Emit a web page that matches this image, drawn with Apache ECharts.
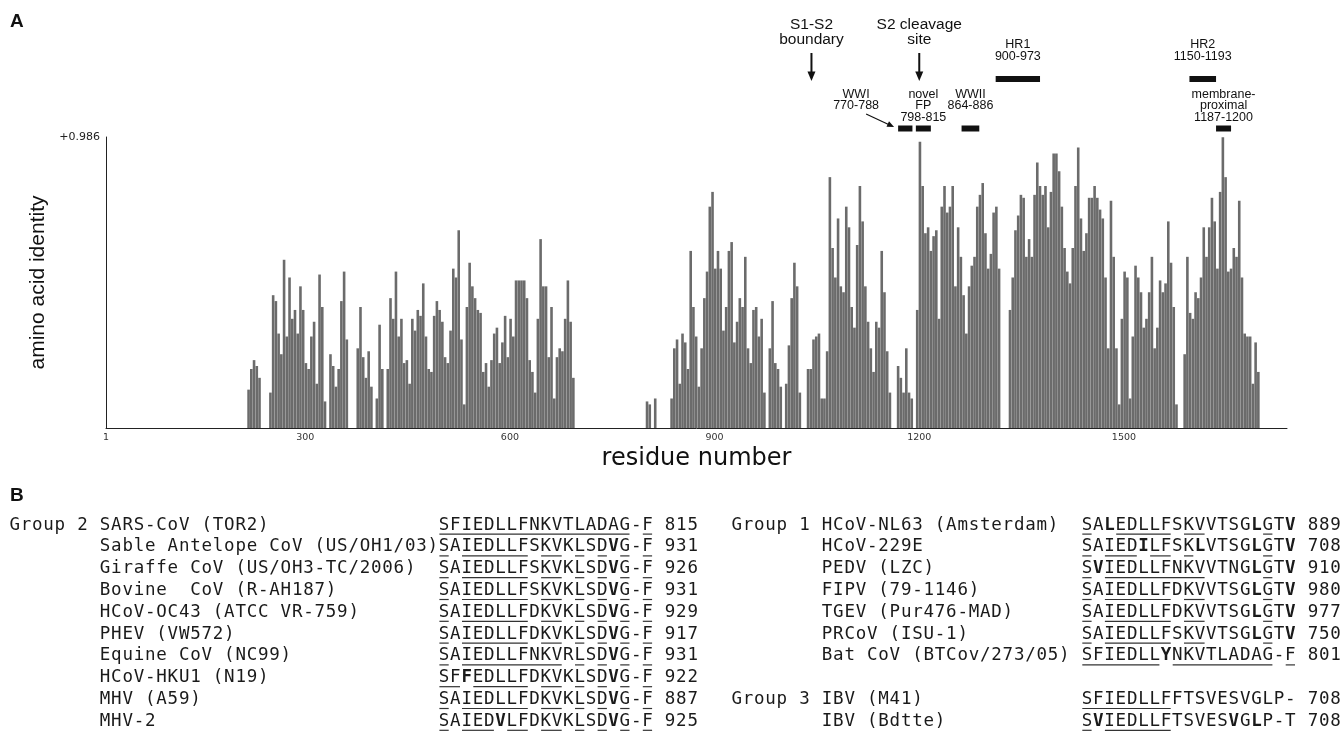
<!DOCTYPE html>
<html>
<head>
<meta charset="utf-8">
<title>Spike protein amino acid identity</title>
<script src="https://cdn.jsdelivr.net/npm/echarts@6/dist/echarts.min.js"></script>
<style>
  html, body { margin: 0; padding: 0; background: #fff; }
  #chart { width: 1343px; height: 738px; }
</style>
</head>
<body>
<div id="chart"></div>
<script>
// ---- panel A data: identity of each 4-residue window along the alignment ----
const firstResidue = 217
const residueStep = 4
const identity = [
  0.13, 0.20, 0.23, 0.21, 0.17, 0, 0, 0, 0.12, 0.45,
  0.43, 0.32, 0.25, 0.57, 0.31, 0.51, 0.37, 0.40, 0.32, 0.48,
  0.40, 0.22, 0.20, 0.31, 0.36, 0.15, 0.52, 0.41, 0.09, 0,
  0.25, 0.21, 0.14, 0.20, 0.43, 0.53, 0.30, 0, 0, 0,
  0.27, 0.41, 0.24, 0.17, 0.26, 0.14, 0, 0.10, 0.35, 0.20,
  0, 0.20, 0.44, 0.37, 0.53, 0.31, 0.37, 0.22, 0.23, 0.15,
  0.37, 0.33, 0.40, 0.38, 0.49, 0.31, 0.20, 0.19, 0.38, 0.43,
  0.40, 0.36, 0.24, 0.22, 0.33, 0.54, 0.51, 0.67, 0.30, 0.08,
  0.41, 0.56, 0.48, 0.44, 0.40, 0.39, 0.19, 0.22, 0.14, 0.23,
  0.32, 0.34, 0.22, 0.29, 0.38, 0.24, 0.37, 0.31, 0.50, 0.50,
  0.50, 0.50, 0.44, 0.23, 0.19, 0.12, 0.37, 0.64, 0.48, 0.48,
  0.24, 0.41, 0.10, 0.24, 0.27, 0.26, 0.37, 0.50, 0.36, 0.17,
  0, 0, 0, 0, 0, 0, 0, 0, 0, 0,
  0, 0, 0, 0, 0, 0, 0, 0, 0, 0,
  0, 0, 0, 0, 0, 0, 0.09, 0.08, 0, 0.10,
  0, 0, 0, 0, 0, 0.10, 0.27, 0.30, 0.15, 0.32,
  0.29, 0.20, 0.60, 0.41, 0.31, 0.14, 0.27, 0.44, 0.53, 0.75,
  0.80, 0.54, 0.60, 0.54, 0.33, 0.41, 0.60, 0.63, 0.29, 0.36,
  0.44, 0.41, 0.58, 0.27, 0.22, 0.40, 0.41, 0.31, 0.37, 0.12,
  0, 0.27, 0.43, 0.22, 0.20, 0.14, 0, 0.15, 0.28, 0.44,
  0.56, 0.48, 0.12, 0, 0, 0.20, 0.20, 0.30, 0.31, 0.32,
  0.10, 0.10, 0.26, 0.85, 0.61, 0.51, 0.71, 0.48, 0.46, 0.75,
  0.68, 0.41, 0.34, 0.62, 0.82, 0.70, 0.48, 0.36, 0.27, 0.19,
  0.36, 0.34, 0.60, 0.46, 0.26, 0.12, 0, 0, 0.21, 0.17,
  0.12, 0.27, 0.12, 0.10, 0, 0.40, 0.97, 0.82, 0.66, 0.68,
  0.60, 0.65, 0.67, 0.37, 0.75, 0.82, 0.73, 0.75, 0.82, 0.48,
  0.68, 0.58, 0.45, 0.32, 0.48, 0.55, 0.58, 0.75, 0.79, 0.83,
  0.66, 0.54, 0.59, 0.73, 0.75, 0.54, 0, 0, 0, 0.40,
  0.51, 0.67, 0.72, 0.79, 0.78, 0.58, 0.64, 0.58, 0.79, 0.90,
  0.82, 0.79, 0.82, 0.68, 0.80, 0.93, 0.93, 0.87, 0.75, 0.61,
  0.53, 0.49, 0.61, 0.82, 0.95, 0.71, 0.60, 0.66, 0.78, 0.78,
  0.82, 0.78, 0.74, 0.71, 0.51, 0.27, 0.77, 0.58, 0.27, 0.08,
  0.37, 0.53, 0.51, 0.10, 0.31, 0.55, 0.51, 0.46, 0.34, 0.37,
  0.46, 0.58, 0.27, 0.34, 0.50, 0.46, 0.49, 0.70, 0.56, 0.41,
  0.08, 0, 0, 0.25, 0.58, 0.39, 0.37, 0.46, 0.44, 0.51,
  0.68, 0.58, 0.68, 0.78, 0.70, 0.54, 0.80, 0.985, 0.85, 0.53,
  0.54, 0.61, 0.58, 0.77, 0.51, 0.32, 0.31, 0.31, 0.15, 0.29,
  0.19
]
const xTickValues = [8, 300, 600, 900, 1200, 1500]
const xTickLabels = ['1', '300', '600', '900', '1200', '1500']
const yTopLabel = '+0.986'

// domains (alignment positions of the bar, SARS numbering in the label)
const domainLabels = ['HR1\n900-973', 'HR2\n1150-1193', 'WWI\n770-788', 'novel\nFP\n798-815', 'WWII\n864-886', 'membrane-\nproximal\n1187-1200']
const domainStart = [1312, 1596, 1169, 1195, 1262, 1635]
const domainEnd = [1377, 1635, 1190, 1217, 1288, 1657]
const domainRow = [0, 0, 1, 1, 1, 1]

const siteLabels = ['S1-S2\nboundary', 'S2 cleavage\nsite']
const siteResidue = [1042, 1200]

// ---- panel B data: alignment around the fusion peptide ----
const group2Names = ['SARS-CoV (TOR2)', 'Sable Antelope CoV (US/OH1/03)', 'Giraffe CoV (US/OH3-TC/2006)', 'Bovine  CoV (R-AH187)', 'HCoV-OC43 (ATCC VR-759)', 'PHEV (VW572)', 'Equine CoV (NC99)', 'HCoV-HKU1 (N19)', 'MHV (A59)', 'MHV-2']
const group2Seqs = ['SFIEDLLFNKVTLADAG-F', 'SAIEDLLFSKVKLSDVG-F', 'SAIEDLLFSKVKLSDVG-F', 'SAIEDLLFSKVKLSDVG-F', 'SAIEDLLFDKVKLSDVG-F', 'SAIEDLLFDKVKLSDVG-F', 'SAIEDLLFNKVRLSDVG-F', 'SFFEDLLFDKVKLSDVG-F', 'SAIEDLLFDKVKLSDVG-F', 'SAIEDVLFDKVKLSDVG-F']
// u = underlined, b = bold, . = plain
const group2Marks = ['uuuuuuuuuuuuuuuuu.u', 'u.uuuuuu.uu.u.ubu.u', 'u.uuuuuu.uu.u.ubu.u', 'u.uuuuuu.uu.u.ubu.u', 'u.uuuuuu.uu.u.ubu.u', 'u.uuuuuu.uu.u.ubu.u', 'u.uuuuuuuuu.u.ubu.u', 'uubuuuuu.uu.u.ubu.u', 'u.uuuuuu.uu.u.ubu.u', 'u.uuubuu.uu.u.ubu.u']
const group2Ends = ['815', '931', '926', '931', '929', '917', '931', '922', '887', '925']

const group1Names = ['HCoV-NL63 (Amsterdam)', 'HCoV-229E', 'PEDV (LZC)', 'FIPV (79-1146)', 'TGEV (Pur476-MAD)', 'PRCoV (ISU-1)', 'Bat CoV (BTCov/273/05)']
const group1Seqs = ['SALEDLLFSKVVTSGLGTV', 'SAIEDILFSKLVTSGLGTV', 'SVIEDLLFNKVVTNGLGTV', 'SAIEDLLFDKVVTSGLGTV', 'SAIEDLLFDKVVTSGLGTV', 'SAIEDLLFSKVVTSGLGTV', 'SFIEDLLYNKVTLADAG-F']
const group1Marks = ['u.buuuuu.uu....bu.b', 'u.uuubuu.ub....bu.b', 'ubuuuuuuuuu....bu.b', 'u.uuuuuu.uu....bu.b', 'u.uuuuuu.uu....bu.b', 'u.uuuuuu.uu....bu.b', 'uuuuuuubuuuuuuuuu.u']
const group1Ends = ['889', '708', '910', '980', '977', '750', '801']

const group3Names = ['IBV (M41)', 'IBV (Bdtte)']
const group3Seqs = ['SFIEDLLFFTSVESVGLP-', 'SVIEDLLFTSVESVGLP-T']
const group3Marks = ['uuuuuuuu...........', 'ubuuuuuu.....b.b...']
const group3Ends = ['708', '708']

// ---- layout ----
const sans = 'Liberation Sans, Arial, sans-serif'
const wide = 'DejaVu Sans, sans-serif'
const mono = 'DejaVu Sans Mono, monospace'
const adv = 11.3
const rowY0 = 525
const rowStep = 21.8

const graphics = [
  { type: 'text', left: 10, top: 12, style: { text: 'A', fontFamily: sans, fontWeight: 'bold', fontSize: 19, fill: '#111' } },
  { type: 'text', left: 10, top: 486, style: { text: 'B', fontFamily: sans, fontWeight: 'bold', fontSize: 19, fill: '#111' } }
]

function putChars (x0, col, row, str, marks) {
  const y = rowY0 + row * rowStep
  for (let j = 0; j < str.length; j++) {
    const ch = str[j]
    if (ch === ' ') continue
    graphics.push({
      type: 'text',
      silent: true,
      x: x0 + (col + j) * adv + adv / 2,
      y: y,
      style: {
        text: ch,
        align: 'center',
        verticalAlign: 'middle',
        fontFamily: mono,
        fontSize: 17.5,
        fontWeight: marks && marks[j] === 'b' ? 'bold' : 'normal',
        fill: '#1a1a1a'
      }
    })
  }
  if (!marks) return
  // underline runs
  let j = 0
  while (j < marks.length) {
    if (marks[j] !== 'u') { j++; continue }
    let k = j
    while (k + 1 < marks.length && marks[k + 1] === 'u') k++
    graphics.push({
      type: 'rect',
      silent: true,
      shape: { x: x0 + (col + j) * adv + 1, y: y + 8.5, width: (k - j + 1) * adv - 2, height: 1.2 },
      style: { fill: '#333' }
    })
    j = k + 1
  }
}

function putBlock (x0, seqCol, label, firstRow, names, seqs, marks, ends) {
  names.forEach((name, i) => {
    const row = firstRow + i
    if (i === 0) putChars(x0, 0, row, label)
    putChars(x0, 8, row, name)
    putChars(x0, seqCol, row, seqs[i], marks[i])
    putChars(x0, seqCol + 20, row, ends[i])
  })
}

putBlock(9, 38, 'Group 2', 0, group2Names, group2Seqs, group2Marks, group2Ends)
putBlock(731, 31, 'Group 1', 0, group1Names, group1Seqs, group1Marks, group1Ends)
putBlock(731, 31, 'Group 3', 8, group3Names, group3Seqs, group3Marks, group3Ends)

function arrowHead (x1, y1, x2, y2, len, half) {
  const dx = x2 - x1
  const dy = y2 - y1
  const d = Math.sqrt(dx * dx + dy * dy)
  const ux = dx / d
  const uy = dy / d
  const bx = x2 - ux * len
  const by = y2 - uy * len
  return [[x2, y2], [bx - uy * half, by + ux * half], [bx + uy * half, by - ux * half]]
}

const chart = echarts.init(document.getElementById('chart'), null, { renderer: 'canvas' })

const option = {
  animation: false,
  backgroundColor: '#fff',
  grid: { left: 106, right: 56, top: 137, bottom: 310, outerBoundsMode: 'none' },
  xAxis: {
    type: 'value',
    min: 8,
    max: 1739,
    name: 'residue number',
    nameLocation: 'middle',
    nameGap: 19,
    nameTextStyle: { fontFamily: wide, fontSize: 24, color: '#111', verticalAlign: 'top' },
    axisLine: { show: true, lineStyle: { color: '#222', width: 1 } },
    axisTick: { show: false },
    splitLine: { show: false },
    axisLabel: {
      customValues: xTickValues,
      formatter: v => xTickLabels[xTickValues.indexOf(v)] || '',
      fontFamily: wide,
      fontSize: 9.5,
      color: '#333',
      margin: 5
    }
  },
  yAxis: {
    type: 'value',
    min: 0,
    max: 0.986,
    interval: 0.986,
    name: 'amino acid identity',
    nameLocation: 'middle',
    nameGap: 14,
    nameTextStyle: { fontFamily: sans, fontSize: 21, color: '#111' },
    axisLine: { show: true, lineStyle: { color: '#222', width: 1 } },
    axisTick: { show: false },
    splitLine: { show: false },
    axisLabel: {
      formatter: v => (v > 0.5 ? yTopLabel : ''),
      fontFamily: wide,
      fontSize: 11,
      color: '#222',
      margin: 6
    }
  },
  series: [
    {
      name: 'identity',
      type: 'bar',
      barWidth: 2.6,
      itemStyle: { color: '#6b6b6b' },
      data: identity.map((v, i) => [firstResidue + i * residueStep, v])
    },
    {
      name: 'domains',
      type: 'custom',
      clip: false,
      silent: true,
      encode: { x: [0, 1], y: 2 },
      data: domainStart.map((s, i) => [s, domainEnd[i], domainRow[i]]),
      renderItem (params, api) {
        const i = params.dataIndex
        const a = api.coord([api.value(0), 0])[0]
        const b = api.coord([api.value(1), 0])[0]
        const barY = api.value(2) === 0 ? 79 : 128.5
        let tx = (a + b) / 2
        const children = [
          { type: 'rect', shape: { x: a, y: barY - 3, width: b - a, height: 6 }, style: { fill: '#111' } }
        ]
        if (domainLabels[i].indexOf('WWI\n') === 0) {
          tx = a - 42
          const x1 = a - 32
          const y1 = barY - 14.5
          const x2 = a - 4
          const y2 = barY - 1.5
          children.push({ type: 'line', shape: { x1, y1, x2: x2 - 5, y2: y2 - 2.3 }, style: { stroke: '#111', lineWidth: 1.2 } })
          children.push({ type: 'polygon', shape: { points: arrowHead(x1, y1, x2, y2, 7, 3) }, style: { fill: '#111' } })
        }
        children.push({
          type: 'text',
          x: tx,
          y: barY - 40,
          style: {
            text: domainLabels[i],
            align: 'center',
            verticalAlign: 'top',
            fontFamily: sans,
            fontSize: 12.5,
            lineHeight: 11.5,
            fill: '#111'
          }
        })
        return { type: 'group', children }
      }
    },
    {
      name: 'sites',
      type: 'custom',
      clip: false,
      silent: true,
      encode: { x: 0, y: 1 },
      data: siteResidue.map(r => [r, 0]),
      renderItem (params, api) {
        const i = params.dataIndex
        const x = api.coord([api.value(0), 0])[0]
        return {
          type: 'group',
          children: [
            {
              type: 'text',
              x: x,
              y: 17,
              style: {
                text: siteLabels[i],
                align: 'center',
                verticalAlign: 'top',
                fontFamily: sans,
                fontSize: 15.5,
                lineHeight: 15,
                fill: '#111'
              }
            },
            { type: 'line', shape: { x1: x, y1: 53, x2: x, y2: 73 }, style: { stroke: '#111', lineWidth: 2 } },
            { type: 'polygon', shape: { points: [[x - 4, 71.5], [x + 4, 71.5], [x, 81]] }, style: { fill: '#111' } }
          ]
        }
      }
    }
  ],
  graphic: graphics
}

chart.setOption(option)
</script>
</body>
</html>
